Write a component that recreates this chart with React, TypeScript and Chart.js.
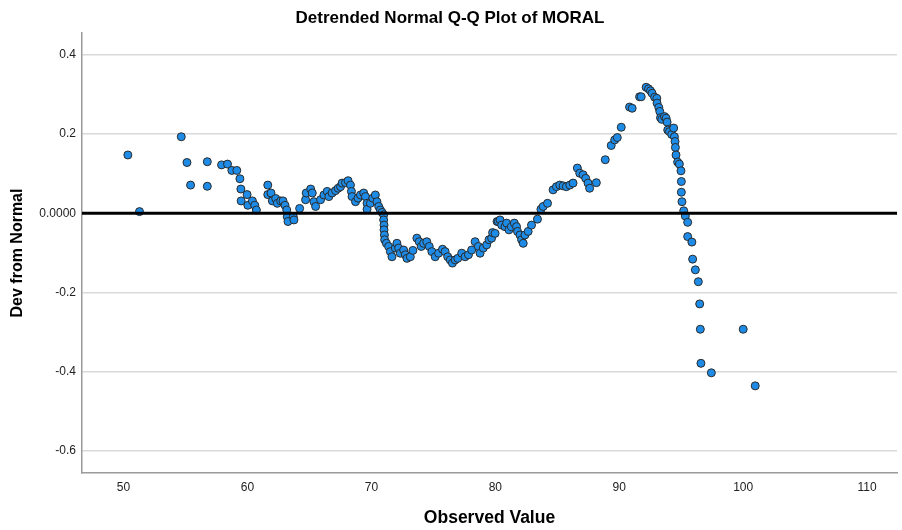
import { useEffect, useRef } from 'react';
import { Chart, registerables } from 'chart.js';

Chart.register(...registerables);

const chartTitle = 'Detrended Normal Q-Q Plot of MORAL';
const xAxisTitle = 'Observed Value';
const yAxisTitle = 'Dev from Normal';

const observedValues = [
  50.35, 51.29, 54.66, 55.12, 55.41, 56.76, 56.76, 57.91, 58.39, 58.74,
  59.14, 59.39, 59.47, 59.49, 59.97, 60.03, 60.40, 60.59, 60.72, 61.64,
  61.64, 61.90, 62.01, 62.28, 62.41, 62.68, 62.87, 63.03, 63.17, 63.21,
  63.27, 63.70, 63.75, 64.21, 64.69, 64.74, 65.10, 65.23, 65.36, 65.50,
  65.90, 66.17, 66.43, 66.57, 66.83, 67.11, 67.32, 67.51, 67.64, 67.91,
  68.12, 68.31, 68.39, 68.44, 68.72, 68.92, 69.12, 69.38, 69.52, 69.65,
  69.65, 69.92, 70.11, 70.32, 70.45, 70.59, 70.73, 70.86, 70.99, 70.99,
  71.02, 71.02, 71.05, 71.07, 71.21, 71.39, 71.53, 71.66, 71.93, 72.06,
  72.20, 72.33, 72.60, 72.74, 72.87, 73.14, 73.35, 73.67, 73.86, 74.02,
  74.21, 74.47, 74.67, 74.88, 75.15, 75.42, 75.74, 75.95, 76.16, 76.36,
  76.54, 76.76, 76.97, 77.29, 77.56, 77.83, 78.09, 78.37, 78.63, 78.77,
  79.03, 79.30, 79.49, 79.70, 79.78, 79.98, 80.14, 80.24, 80.38, 80.51,
  80.78, 80.91, 81.10, 81.31, 81.53, 81.71, 81.79, 81.99, 82.12, 82.25,
  82.39, 82.65, 82.92, 83.40, 83.68, 83.86, 84.21, 84.66, 84.93, 85.20,
  85.47, 85.73, 86.01, 86.27, 86.62, 86.81, 87.08, 87.29, 87.48, 87.61,
  88.15, 88.87, 89.35, 89.63, 89.84, 90.16, 90.83, 91.04, 91.64, 91.77,
  92.17, 92.36, 92.52, 92.65, 92.85, 93.03, 93.05, 93.19, 93.27, 93.33,
  93.43, 93.65, 93.78, 93.86, 93.91, 94.05, 94.23, 94.39, 94.45, 94.50,
  94.53, 94.58, 94.71, 94.85, 94.98, 95.01, 95.01, 95.06, 95.20, 95.33,
  95.52, 95.52, 95.86, 95.92, 96.14, 96.38, 96.49, 96.54, 96.59, 97.43,
  100.00, 100.97,
];

const devFromNormal = [
  0.147, 0.004, 0.193, 0.128, 0.071, 0.130, 0.068, 0.122, 0.124, 0.108,
  0.108, 0.087, 0.061, 0.031, 0.047, 0.020, 0.031, 0.020, 0.008, 0.071,
  0.047, 0.051, 0.031, 0.037, 0.025, 0.031, 0.031, 0.020, 0.008, -0.009,
  -0.021, -0.009, -0.017, 0.012, 0.034, 0.051, 0.061, 0.051, 0.029, 0.017,
  0.034, 0.046, 0.055, 0.042, 0.051, 0.057, 0.063, 0.067, 0.076, 0.077,
  0.082, 0.071, 0.055, 0.042, 0.029, 0.038, 0.046, 0.051, 0.042, 0.025,
  0.010, 0.025, 0.038, 0.046, 0.029, 0.017, 0.008, 0.002, -0.004, -0.017,
  -0.030, -0.042, -0.055, -0.067, -0.076, -0.084, -0.097, -0.110, -0.088, -0.076,
  -0.088, -0.101, -0.093, -0.105, -0.114, -0.110, -0.094, -0.063, -0.072, -0.084,
  -0.076, -0.072, -0.084, -0.097, -0.110, -0.101, -0.091, -0.097, -0.110, -0.118,
  -0.126, -0.118, -0.114, -0.101, -0.110, -0.105, -0.093, -0.072, -0.084, -0.101,
  -0.088, -0.080, -0.067, -0.063, -0.049, -0.051, -0.021, -0.021, -0.017, -0.030,
  -0.034, -0.025, -0.042, -0.034, -0.025, -0.034, -0.046, -0.055, -0.067, -0.076,
  -0.055, -0.046, -0.030, -0.015, 0.010, 0.017, 0.025, 0.059, 0.067, 0.071,
  0.069, 0.067, 0.071, 0.076, 0.114, 0.101, 0.097, 0.088, 0.076, 0.063,
  0.077, 0.135, 0.171, 0.185, 0.191, 0.217, 0.268, 0.265, 0.294, 0.294,
  0.318, 0.314, 0.309, 0.303, 0.293, 0.290, 0.278, 0.267, 0.257, 0.241,
  0.237, 0.244, 0.240, 0.230, 0.210, 0.206, 0.199, 0.215, 0.193, 0.181,
  0.166, 0.147, 0.129, 0.124, 0.107, 0.080, 0.053, 0.029, 0.006, -0.007,
  -0.023, -0.059, -0.073, -0.116, -0.143, -0.173, -0.229, -0.293, -0.379, -0.403,
  -0.293, -0.436,
];

const xTicks = [50, 60, 70, 80, 90, 100, 110];
const xTickLabels = ['50', '60', '70', '80', '90', '100', '110'];
const yTicks = [-0.6, -0.4, -0.2, 0, 0.2, 0.4];
const yTickLabels = ['-0.6', '-0.4', '-0.2', '0.0000', '0.2', '0.4'];
const xMin = 46.65;
const xMax = 112.41;
const yMin = -0.656;
const yMax = 0.455;
const referenceValue = 0;

const FONT = "'Liberation Sans', Arial, Helvetica, sans-serif";

const referenceLine = {
  id: 'referenceLine',
  afterDatasetsDraw(chart: any) {
    const { ctx, chartArea, scales } = chart;
    const py = scales.y.getPixelForValue(referenceValue);
    ctx.save();
    ctx.strokeStyle = '#000000';
    ctx.lineWidth = 3;
    ctx.beginPath();
    ctx.moveTo(chartArea.left, py);
    ctx.lineTo(chartArea.right, py);
    ctx.stroke();
    ctx.restore();
  },
};

export default function App() {
  const canvasRef = useRef<HTMLCanvasElement | null>(null);

  useEffect(() => {
    document.body.style.margin = '0';
    const canvas = canvasRef.current;
    if (!canvas) return;
    const points = observedValues.map((x, i) => ({ x, y: devFromNormal[i] }));
    const chart = new Chart(canvas, {
      type: 'scatter',
      data: {
        datasets: [
          {
            data: points,
            pointRadius: 4,
            pointHoverRadius: 4,
            pointBackgroundColor: 'rgb(30,140,230)',
            pointBorderColor: '#2a2a2a',
            pointBorderWidth: 1,
          },
        ],
      },
      plugins: [referenceLine],
      options: {
        responsive: false,
        animation: false,
        layout: { padding: { left: 0, right: 2, top: 0, bottom: 0 } },
        plugins: {
          legend: { display: false },
          tooltip: { enabled: false },
          title: {
            display: true,
            text: chartTitle,
            color: '#000000',
            font: { family: FONT, size: 17, weight: 'bold', lineHeight: 1.2 },
            padding: { top: 8, bottom: 4.6 },
          },
        },
        scales: {
          x: {
            type: 'linear',
            min: xMin,
            max: xMax,
            afterBuildTicks: (s: any) => {
              s.ticks = xTicks.map((v) => ({ value: v }));
            },
            afterFit: (s: any) => {
              s.height = 57;
            },
            grid: { display: false, drawTicks: false },
            border: { display: true, color: '#9a9a9a', width: 1.5 },
            ticks: {
              padding: 7,
              color: '#222222',
              font: { family: FONT, size: 12 },
              maxRotation: 0,
              autoSkip: false,
              callback: (v: any) => {
                const i = xTicks.indexOf(Number(v));
                return i >= 0 ? xTickLabels[i] : '';
              },
            },
            title: {
              display: true,
              text: xAxisTitle,
              color: '#000000',
              font: { family: FONT, size: 17.5, weight: 'bold', lineHeight: 1.2 },
              padding: { top: 0, bottom: 1 },
            },
          },
          y: {
            type: 'linear',
            min: yMin,
            max: yMax,
            afterBuildTicks: (s: any) => {
              s.ticks = yTicks.map((v) => ({ value: v }));
            },
            afterFit: (s: any) => {
              s.width = 82;
            },
            grid: { color: '#d9d9d9', lineWidth: 1.5, drawTicks: false },
            border: { display: true, color: '#9a9a9a', width: 1.5 },
            ticks: {
              padding: 6,
              color: '#222222',
              font: { family: FONT, size: 12 },
              autoSkip: false,
              callback: (v: any) => {
                const i = yTicks.indexOf(Number(v));
                return i >= 0 ? yTickLabels[i] : '';
              },
            },
            title: {
              display: true,
              text: yAxisTitle,
              color: '#000000',
              font: { family: FONT, size: 16, weight: 'bold', lineHeight: 1.2 },
              padding: { top: 7.5, bottom: 0 },
            },
          },
        },
      },
    } as any);
    return () => {
      chart.destroy();
    };
  }, []);

  return (
    <div style={{ width: 902, height: 530 }}>
      <canvas ref={canvasRef} width={902} height={530} style={{ display: 'block' }} />
    </div>
  );
}
